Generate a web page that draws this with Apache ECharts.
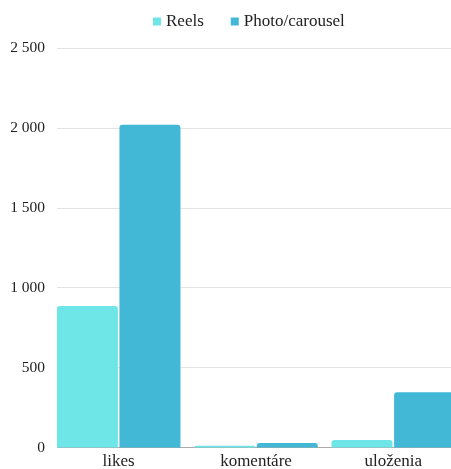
<!DOCTYPE html>
<html>
<head>
<meta charset="utf-8">
<script src="https://cdn.jsdelivr.net/npm/echarts@6/dist/echarts.min.js"></script>
<style>html,body{margin:0;padding:0;background:#fff;}#c{width:451px;height:469px;}</style>
</head>
<body>
<div id="c"></div>
<script>
const categories = ['likes', 'komentáre', 'uloženia'];
const seriesNames = ['Reels', 'Photo/carousel'];
const reels = [885, 11, 47];
const photo = [2020, 28, 345];
const yTicks = [0, 500, 1000, 1500, 2000, 2500];

const font = 'Liberation Serif';
const chart = echarts.init(document.getElementById('c'));
function fmt(v) { return String(v).replace(/\B(?=(\d{3})+(?!\d))/g, ' '); }
chart.setOption({
  animation: false,
  legend: {
    top: 8, left: 148,
    icon: 'rect', itemWidth: 8, itemHeight: 8, itemGap: 27,
    textStyle: { fontFamily: font, fontSize: 17, color: '#222' },
    data: seriesNames
  },
  grid: { left: 50, right: -11, top: 48, bottom: 21.5, containLabel: false, outerBoundsMode: 'none' },
  graphic: [{ type: 'rect', left: 48.5, top: 40, shape: { width: 8.5, height: 412 }, style: { fill: '#fff' }, z: 10, silent: true }],
  xAxis: {
    type: 'category', data: categories,
    axisTick: { show: false },
    axisLine: { lineStyle: { color: '#aaa', width: 1 } },
    axisLabel: { fontFamily: font, fontSize: 17, color: '#222', margin: 6 }
  },
  yAxis: {
    type: 'value', min: yTicks[0], max: yTicks[yTicks.length - 1], interval: 500,
    axisLine: { show: false }, axisTick: { show: false },
    splitLine: { lineStyle: { color: '#e3e3e3' } },
    axisLabel: { fontFamily: font, fontSize: 15.5, color: '#222', margin: 5, formatter: fmt }
  },
  series: [
    { name: seriesNames[0], type: 'bar', data: reels, barCategoryGap: '10%', barGap: '2.5%',
      itemStyle: { color: '#6ee6e8', borderRadius: [3, 3, 0, 0] } },
    { name: seriesNames[1], type: 'bar', data: photo,
      itemStyle: { color: '#42b8d6', borderRadius: [3, 3, 0, 0] } }
  ]
});
</script>
</body>
</html>
